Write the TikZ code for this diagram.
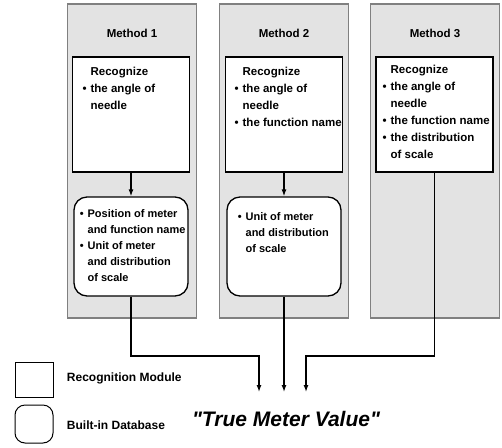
\documentclass[tikz,border=0pt]{standalone}
\usepackage{fontspec}
\setmainfont{Liberation Sans}
\usepackage{tikz}
\usetikzlibrary{arrows.meta}
\newcommand{\itm}{\llap{\textbullet\hspace{4pt}}}
\tikzstyle{panel} = [draw=black!50, fill=black!11, minimum width=129pt, minimum height=314pt, inner sep=0pt]
\tikzstyle{module} = [draw, line width=1.3pt, fill=white, minimum width=117pt, minimum height=115pt, inner sep=0pt]
\tikzstyle{base} = [draw, line width=1.3pt, fill=white, rounded corners=13pt, minimum width=114pt, minimum height=99pt, inner sep=0pt]
\tikzstyle{head} = [font=\fontsize{11.5}{14}\selectfont\bfseries]
\tikzstyle{txt} = [anchor=north west, align=left, inner sep=0pt, font=\fontsize{11.5}{17}\selectfont\bfseries]
\tikzstyle{dbtxt} = [anchor=north west, align=left, inner sep=0pt, font=\fontsize{11}{16}\selectfont\bfseries]
\tikzstyle{key} = [anchor=west, font=\fontsize{12}{14}\selectfont\bfseries]

\begin{document}
\begin{tikzpicture}[x=1pt, y=-1pt, >={Latex[length=7pt,width=5pt]}, line width=1.3pt]
	  \useasboundingbox (0,0) rectangle (502,447);

	  \node (p1) at (132,161) [panel] {};
	  \node (p2) at (284,161) [panel] {};
	  \node (p3) at (435,161) [panel] {};

	  \node (h1) at (132,33) [head] {Method 1};
	  \node (h2) at (284,33) [head] {Method 2};
	  \node (h3) at (435,33) [head] {Method 3};

	  \node (r1) at (131,114.5) [module] {};
	  \node (r2) at (284,114.5) [module] {};
	  \node (r3) at (434.5,114.5) [module] {};

	  \node (d1) at (131,246.5) [base] {};
	  \node (d2) at (284,246.5) [base] {};

	  \node (t1) at (90,67) [txt] {Recognize\\\itm the angle of\\needle};
	  \node (t2) at (242,67) [txt] {Recognize\\\itm the angle of\\needle\\\itm the function name};
	  \node (t3) at (390,65) [txt] {Recognize\\\itm the angle of\\needle\\\itm the function name\\\itm the distribution\\of scale};

	  \node (u1) at (87,209) [dbtxt] {\itm Position of meter\\and function name\\\itm Unit of meter\\and distribution\\of scale};
	  \node (u2) at (245,212) [dbtxt] {\itm Unit of meter\\and distribution\\of scale};

	  \coordinate (k1) at (259,356);
	  \coordinate (k3) at (306,356);
	  \coordinate (e1) at (259,392);
	  \coordinate (e2) at (284,392);
	  \coordinate (e3) at (306,392);

	  \draw [->] (r1) -- (d1);
	  \draw [->] (r2) -- (d2);
	  \draw [->] (d1) |- (k1) -- (e1);
	  \draw [->] (d2) -- (e2);
	  \draw [->] (r3) |- (k3) -- (e3);

	  \node (l1) at (34,379.5) [draw, line width=1pt, minimum width=38pt, minimum height=35pt, inner sep=0pt] {};
	  \node (l2) at (34,424) [draw, line width=1pt, rounded corners=10pt, minimum width=38pt, minimum height=38pt, inner sep=0pt] {};
	  \node (m1) at (63,378) [key] {Recognition Module};
	  \node (m2) at (63,425) [key] {Built-in Database};

	  \node (v) at (286,419) [font=\fontsize{21}{24}\selectfont\bfseries\itshape] {\textquotedbl True Meter Value\textquotedbl};
	\end{tikzpicture}
\end{document}
